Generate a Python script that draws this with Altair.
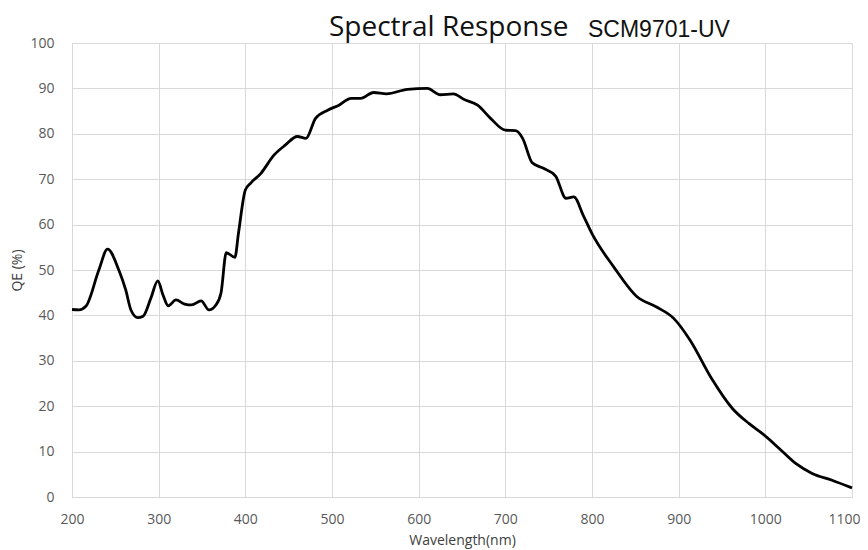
import altair as alt
import pandas as pd

wavelength = [200, 208, 216, 231, 241, 254, 262, 268, 276, 282, 291, 299, 305, 311,
              320, 330, 338, 349, 358, 366, 372, 378, 388, 392, 400, 406, 418, 433,
              446, 460, 470, 481, 495, 508, 522, 533, 548, 563, 587, 610, 625, 640,
              652, 668, 683, 700, 712, 720, 731, 744, 758, 770, 779, 790, 800, 825,
              852, 875, 894, 913, 938, 962, 981, 997, 1016, 1035, 1054, 1077, 1100]
qe = [41.3, 41.2, 42.0, 50.0, 54.6, 50.0, 45.6, 41.2, 39.5, 39.8, 43.8, 47.6, 44.5, 42.1,
      43.4, 42.5, 42.3, 43.2, 41.2, 42.3, 45.0, 53.8, 52.8, 58.0, 67.6, 69.1, 71.3, 75.3,
      77.5, 79.4, 79.0, 83.4, 85.2, 86.3, 87.8, 87.8, 89.1, 88.8, 89.8, 90.0, 88.6, 88.8,
      87.6, 86.3, 83.4, 80.8, 80.7, 79.0, 73.6, 72.4, 70.7, 65.8, 66.1, 62.0, 58.0, 50.7,
      44.1, 41.8, 39.4, 34.6, 26.1, 19.5, 16.2, 13.9, 10.7, 7.4, 5.2, 3.7, 2.0]
x_ticks = list(range(200, 1101, 100))
y_ticks = list(range(0, 101, 10))
title_main = "Spectral Response"
title_model = "SCM9701-UV"

df = pd.DataFrame({"Wavelength": wavelength, "QE": qe})

LABEL_FONT = "Open Sans"

line = alt.Chart(df).mark_line(
    color="black", strokeWidth=2.8, interpolate="monotone"
).encode(
    x=alt.X("Wavelength:Q",
            scale=alt.Scale(domain=[200, 1100], nice=False, zero=False),
            axis=alt.Axis(values=x_ticks, format="d", title="Wavelength(nm)",
                          labelPadding=15, titlePadding=7, labelFlush=False,
                          labelAlign=alt.ExprRef("datum.value == 1100 ? 'right' : 'center'"),
                          labelOffset=alt.ExprRef("datum.value == 1100 ? 8 : 0"))),
    y=alt.Y("QE:Q",
            scale=alt.Scale(domain=[0, 100], nice=False),
            axis=alt.Axis(values=y_ticks, format="d", title="QE (%)",
                          labelPadding=18, titlePadding=5, labelFlush=False)),
)

t1 = alt.Chart(pd.DataFrame({"t": [title_main]})).mark_text(
    align="left", baseline="alphabetic", font="Open Sans", fontSize=28, color="#111"
).encode(x=alt.value(257), y=alt.value(-7), text="t:N")

t2 = alt.Chart(pd.DataFrame({"t": [title_model]})).mark_text(
    align="left", baseline="alphabetic", font="Liberation Sans", fontSize=23, color="#111"
).encode(x=alt.value(516), y=alt.value(-6), text="t:N")

chart = alt.layer(line, t1, t2).properties(
    width=780, height=454,
    autosize=alt.AutoSizeParams(type="none"),
    padding={"left": 64, "top": 35, "right": 8, "bottom": 52},
).configure_view(stroke="#d9d9d9", strokeWidth=1).configure_axis(
    grid=True, gridColor="#d9d9d9", gridWidth=1, domainColor="#d9d9d9",
    ticks=False, labelFont=LABEL_FONT, labelFontSize=14, labelColor="#595959",
    titleFont=LABEL_FONT, titleFontSize=14, titleFontWeight="normal", titleColor="#404040",
)

chart.save("out.html", embed_options={"renderer": "svg", "actions": False})
